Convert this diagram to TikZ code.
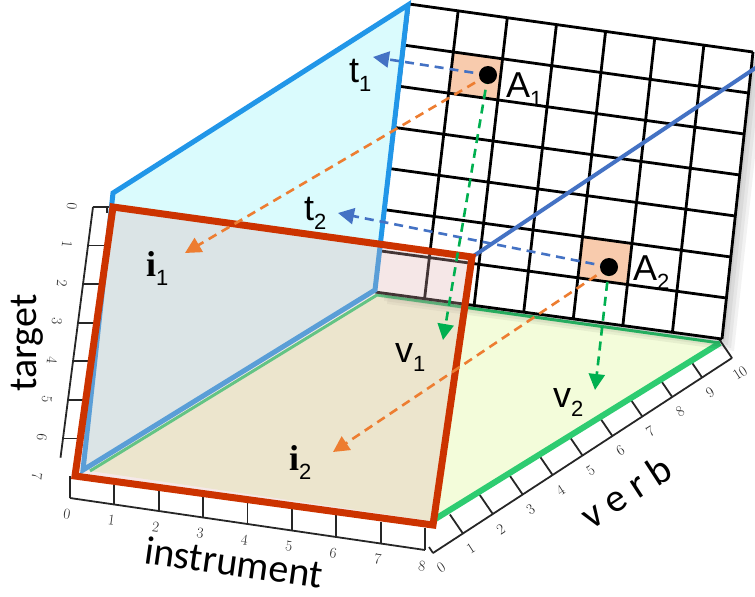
\documentclass[tikz,border=0pt]{standalone}
\usepackage{fontspec}
\usetikzlibrary{calc,arrows.meta}
\newfontfamily\labfont{Liberation Sans}
\newfontfamily\calfont{Carlito}
\newfontfamily\serfont{Liberation Serif}
\definecolor{redE}{RGB}{204,51,0}
\definecolor{panelB}{RGB}{33,150,232}
\definecolor{panelF}{RGB}{218,251,253}
\definecolor{floorF}{RGB}{243,252,218}
\definecolor{floorG}{RGB}{46,204,113}
\definecolor{overlayC}{RGB}{222,178,178}
\definecolor{dBlue}{RGB}{68,114,196}
\definecolor{dOrange}{RGB}{237,125,49}
\definecolor{dGreen}{RGB}{0,176,80}
\definecolor{peach}{RGB}{248,203,173}
\newcommand\sublbl[3]{{#1\fontsize{36}{36}\selectfont #2}{\labfont\fontsize{22}{22}\selectfont\raisebox{-9pt}{#3}}}
\tikzset{
  tickline/.style={line width=1.8pt, black!85},
  ticklab/.style={inner sep=0pt, font=\fontsize{15}{15}\selectfont, text=black!85},
  gridline/.style={line width=2.8pt, black},
  dasharrow/.style={line width=2.6pt, dash pattern=on 9pt off 6pt, -{Triangle[length=16pt,width=16pt]}},
  dotnode/.style={circle, fill=black, inner sep=0pt, minimum size=18pt},
  lbl/.style={inner sep=0pt, anchor=base west},
  axlab/.style={inner sep=0pt, anchor=base, font=\calfont\fontsize{40}{40}\selectfont}
}
\begin{document}
\begin{tikzpicture}[x=1pt,y=-1pt,line join=miter]
\useasboundingbox (0,0) rectangle (755,597);
% ---------- key coordinates
\coordinate (GTL) at (409,4);
\coordinate (GTR) at (753,52);
\coordinate (GBR) at (722,339);
\coordinate (GBL) at (375,292);
\coordinate (T0) at (93,207);
\coordinate (T7) at (58,477);
\coordinate (I0) at (70,498);
\coordinate (I8) at (425,550);
\coordinate (V0) at (433,553);
\coordinate (V10) at (732,358);
\coordinate (RTL) at (113,207);
\coordinate (RTR) at (472,257);
\coordinate (RBR) at (433,525);
\coordinate (RBL) at (75,476);
\coordinate (PT) at (408,5);
\coordinate (PL) at (113,193);
\coordinate (PB) at (83,470);
\coordinate (PR) at (375,290);
\coordinate (F1) at (377,295);
\coordinate (F2) at (720,343);
\coordinate (F3) at (432,521);
\coordinate (F4) at (90,471);
% ---------- rulers
\foreach \i in {0,...,6} \draw[tickline] ($(T0)!\i/7!(T7)$) -- ++(16,0);
\draw[tickline] ($(T0)+(14,0)$) -- ++(0,6);
\draw[tickline] (T0) -- ($(T0)!6.5/7!(T7)$);
\foreach \i in {0,...,7} \node[ticklab, rotate=-95] (tl\i) at ($(T0)!\i/7!(T7)+(-21,-1)$) {\i};
\foreach \i in {0,...,8} \draw[tickline] ($(I0)!\i/8!(I8)$) -- ++(0,-22);
\draw[tickline] (I0) -- (I8);
\foreach \i in {0,...,8} \node[ticklab, rotate=-8] (il\i) at ($(I0)!\i/8!(I8)+(-3,16)$) {\i};
\foreach \i in {1,...,10} \draw[tickline] ($(V0)!\i/10!(V10)$) -- ++(-13,-19);
\draw[tickline] (V0) -- ++(-4,-6);
\draw[tickline] (V0) -- (V10);
\foreach \i in {0,...,10} \node[ticklab, rotate=33] (vl\i) at ($(V0)!\i/10!(V10)+(8,15)$) {\i};
% ---------- floor
\fill[floorF] (F1) -- (F2) -- (F3) -- (F4) -- cycle;
\draw[floorG, line width=3pt] (F4) -- (F1) -- (F2);
\draw[floorG, line width=6pt] (F2) -- (F3);
% ---------- grid
\foreach \s in {3,6,9,12}
  \fill[black, opacity=0.05] ($(GTL)+(\s,\s)$) -- ($(GTR)+(\s,\s)$) -- ($(GBR)+(\s,\s)$) -- ($(GBL)+(\s,\s)$) -- cycle;
\fill[white] (GTL) -- (GTR) -- (GBR) -- (GBL) -- cycle;
\coordinate (L1) at ($(GTL)!1/7!(GBL)$);
\coordinate (R1) at ($(GTR)!1/7!(GBR)$);
\coordinate (L2) at ($(GTL)!2/7!(GBL)$);
\coordinate (R2) at ($(GTR)!2/7!(GBR)$);
\coordinate (L5) at ($(GTL)!5/7!(GBL)$);
\coordinate (R5) at ($(GTR)!5/7!(GBR)$);
\coordinate (L6) at ($(GTL)!6/7!(GBL)$);
\coordinate (R6) at ($(GTR)!6/7!(GBR)$);
\fill[peach] ($(L1)!1/7!(R1)$) -- ($(L1)!2/7!(R1)$) -- ($(L2)!2/7!(R2)$) -- ($(L2)!1/7!(R2)$) -- cycle;
\fill[peach] ($(L5)!4/7!(R5)$) -- ($(L5)!5/7!(R5)$) -- ($(L6)!5/7!(R6)$) -- ($(L6)!4/7!(R6)$) -- cycle;
\foreach \i in {0,...,7} {
  \draw[gridline] ($(GTL)!\i/7!(GTR)$) -- ($(GBL)!\i/7!(GBR)$);
  \draw[gridline] ($(GTL)!\i/7!(GBL)$) -- ($(GTR)!\i/7!(GBR)$);
}
% ---------- left panel
\filldraw[fill=panelF, draw=panelB, line width=5pt] (PT) -- (PL) -- (PB) -- (PR) -- cycle;
% ---------- red plane
\fill[overlayC, opacity=0.3] (RTL) -- (RTR) -- (RBR) -- (RBL) -- cycle;
\coordinate (DE) at (760,65);
\draw[dBlue, line width=4pt] (RTR) -- (DE);
\draw[redE, line width=7pt] (RTL) -- (RTR) -- (RBR) -- (RBL) -- cycle;
% ---------- points and projections
\coordinate (t1tip) at (373,57);
\coordinate (t2tip) at (338,213);
\coordinate (i1tip) at (185,253);
\coordinate (i2tip) at (333,452);
\coordinate (v1tip) at (443,340);
\coordinate (v2tip) at (595,390);
\coordinate (A1c) at (488,75);
\coordinate (A2c) at (609,267);
\draw[dasharrow, dBlue] (A1c) -- (t1tip);
\draw[dasharrow, dBlue] (A2c) -- (t2tip);
\draw[dasharrow, dOrange] (A1c) -- (i1tip);
\draw[dasharrow, dOrange] (A2c) -- (i2tip);
\draw[dasharrow, dGreen] (A1c) -- (v1tip);
\draw[dasharrow, dGreen] (A2c) -- (v2tip);
\node[dotnode] (A1) at (A1c) {};
\node[dotnode] (A2) at (A2c) {};
% ---------- labels
\node[lbl] (lA1) at (506,97) {\sublbl{\labfont}{A}{1}};
\node[lbl] (lA2) at (633,280) {\sublbl{\labfont}{A}{2}};
\node[lbl] (lt1) at (349,82) {\sublbl{\labfont}{t}{1}};
\node[lbl] (lt2) at (304,220) {\sublbl{\labfont}{t}{2}};
\node[lbl] (li1) at (146,276) {\sublbl{\serfont\bfseries}{i}{1}};
\node[lbl] (li2) at (289,470) {\sublbl{\serfont\bfseries}{i}{2}};
\node[lbl] (lv1) at (395,362) {\sublbl{\labfont}{v}{1}};
\node[lbl] (lv2) at (553,407) {\sublbl{\labfont}{v}{2}};
\node[axlab, rotate=90] (target) at (36,343) {target};
\node[axlab, rotate=-8] (instr) at (232,576) {instrument};
\node[axlab, rotate=33] (verb) at (633,503) {v e r b};
\end{tikzpicture}
\end{document}
